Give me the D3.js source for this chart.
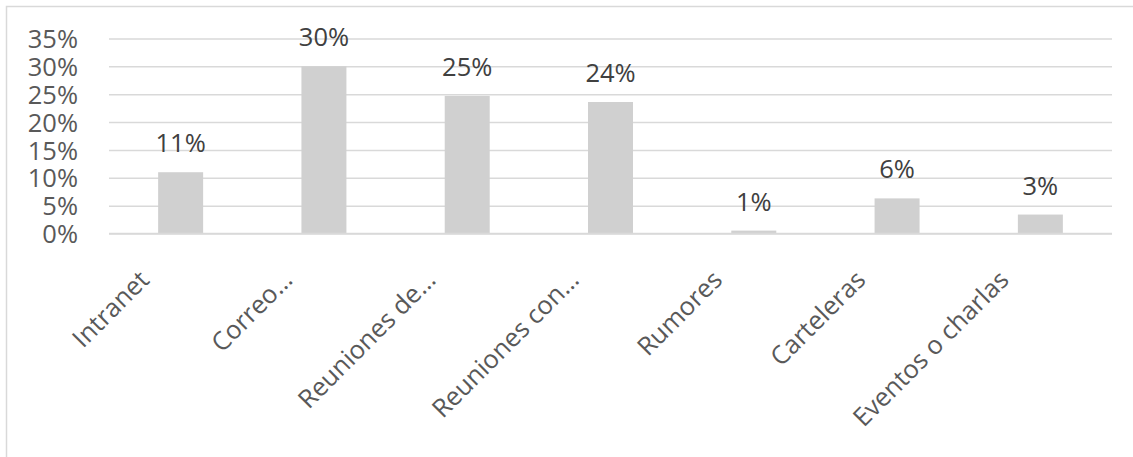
<!DOCTYPE html>
<html>
<head>
<meta charset="utf-8">
<script src="https://cdn.jsdelivr.net/npm/d3@7"></script>
<style>
  html, body { margin: 0; padding: 0; background: #ffffff; }
  svg { display: block; }
  text { font-family: "Open Sans", sans-serif; fill: #595959; }
</style>
</head>
<body>
<svg id="chart" width="1133" height="457"></svg>
<script>
// Canales de comunicación interna (porcentaje de respuestas)
const categories = ["Intranet", "Correo…", "Reuniones de…", "Reuniones con…", "Rumores", "Carteleras", "Eventos o charlas"];
const values = [0.11, 0.30, 0.247, 0.236, 0.0052, 0.063, 0.034];
const yTicks = [0, 0.05, 0.10, 0.15, 0.20, 0.25, 0.30, 0.35];

const svg = d3.select("#chart");
const W = 1133, H = 457;
const plot = { left: 109, right: 1112, top: 38.5, bottom: 233.5 };
const fontSize = "25.5px";

// chart frame (only top and left edges fall inside the page)
svg.append("rect")
  .attr("x", 6.5).attr("y", 6.5)
  .attr("width", W + 20).attr("height", H + 20)
  .attr("fill", "#ffffff")
  .attr("stroke", "#d9d9d9").attr("stroke-width", 1.5);

const x = d3.scaleBand()
  .domain(categories)
  .range([plot.left, plot.right])
  .paddingInner(0.686)
  .paddingOuter(0.343);

const y = d3.scaleLinear()
  .domain([0, 0.35])
  .range([plot.bottom, plot.top]);

const fmt = d3.format(".0%");

// horizontal gridlines + value axis labels
const yAxis = d3.axisLeft(y)
  .tickValues(yTicks)
  .tickFormat(fmt)
  .tickSize(-(plot.right - plot.left));

const gy = svg.append("g")
  .attr("transform", `translate(${plot.left},0)`)
  .call(yAxis);
gy.select(".domain").remove();
gy.selectAll(".tick line").attr("stroke", "#d9d9d9").attr("stroke-width", 1.5);
gy.selectAll(".tick text")
  .attr("x", -31)
  .attr("dy", "0.36em")
  .style("font-size", fontSize)
  .style("fill", "#595959");

// bars
svg.append("g").selectAll("rect")
  .data(values)
  .join("rect")
  .attr("x", (d, i) => x(categories[i]))
  .attr("width", x.bandwidth())
  .attr("y", d => y(d))
  .attr("height", d => y(0) - y(d))
  .attr("fill", "#d0d0d0");

// baseline over the bars
svg.append("line")
  .attr("x1", plot.left).attr("x2", plot.right)
  .attr("y1", y(0)).attr("y2", y(0))
  .attr("stroke", "#d9d9d9").attr("stroke-width", 1.5);

// data labels
svg.append("g").selectAll("text")
  .data(values)
  .join("text")
  .attr("x", (d, i) => x(categories[i]) + x.bandwidth() / 2)
  .attr("y", d => y(d) - 20)
  .attr("text-anchor", "middle")
  .style("font-size", fontSize)
  .style("fill", "#404040")
  .text(d => fmt(d));

// rotated category labels
const xAxis = d3.axisBottom(x).tickSize(0).tickPadding(0);
const gx = svg.append("g")
  .attr("transform", `translate(0,${plot.bottom})`)
  .call(xAxis);
gx.select(".domain").remove();
gx.selectAll(".tick text")
  .attr("text-anchor", "end")
  .attr("y", 0)
  .attr("dy", 0)
  .attr("transform", "translate(-30,48) rotate(-45)")
  .style("font-size", fontSize)
  .style("fill", "#595959");
</script>
</body>
</html>
